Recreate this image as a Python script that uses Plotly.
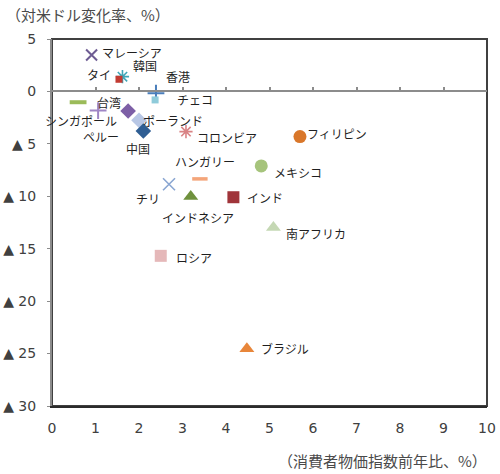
import plotly.graph_objects as go

# ---- data ----
countries = ["マレーシア", "韓国", "タイ", "香港", "チェコ", "台湾", "シンガポール", "ペルー",
             "ポーランド", "中国", "コロンビア", "フィリピン", "ハンガリー", "メキシコ", "チリ",
             "インド", "インドネシア", "南アフリカ", "ロシア", "ブラジル"]
cpi = [0.91, 1.62, 1.54, 2.39, 2.37, 0.60, 1.06, 1.75, 2.00, 2.10, 3.08, 5.70, 3.40,
       4.81, 2.69, 4.17, 3.19, 5.09, 2.50, 4.48]
fx = [3.47, 1.41, 1.16, -0.17, -0.81, -1.03, -1.83, -1.86, -2.75, -3.77, -3.83, -4.31,
      -8.34, -7.10, -8.85, -10.09, -10.03, -12.98, -15.68, -24.55]

x_ticks = list(range(0, 11))
y_tickvals = [5, 0, -5, -10, -15, -20, -25, -30]
y_ticktext = ["5", "0", "▲ 5", "▲ 10", "▲ 15", "▲ 20", "▲ 25", "▲ 30"]
y_title = "（対米ドル変化率、%）"
x_title = "（消費者物価指数前年比、%）"

# ---- styles ----
styles = {
    "マレーシア": dict(symbol="x-thin", size=11, color="#6E5C93", lw=2),
    "韓国": dict(symbol="asterisk", size=11, color="#3FA6B8", lw=1.6),
    "タイ": dict(symbol="square", size=7, color="#C23B32", lw=0),
    "香港": dict(symbol="cross-thin", size=12, color="#4A7EBB", lw=2),
    "チェコ": dict(symbol="square", size=7, color="#8FCBDA", lw=0),
    "台湾": dict(symbol="line-ew", size=12, color="#9BBB59", lw=4),
    "シンガポール": dict(symbol="cross-thin", size=12, color="#9F86C5", lw=2),
    "ペルー": dict(symbol="diamond", size=12, color="#7D5FA6", lw=0),
    "ポーランド": dict(symbol="diamond", size=12, color="#B8C7E5", lw=0),
    "中国": dict(symbol="diamond", size=12, color="#2F5E93", lw=0),
    "コロンビア": dict(symbol="asterisk", size=11, color="#D98385", lw=1.6),
    "フィリピン": dict(symbol="circle", size=13, color="#D9772A", lw=0),
    "ハンガリー": dict(symbol="line-ew", size=11, color="#F4A57A", lw=3.5),
    "メキシコ": dict(symbol="circle", size=13, color="#A6C47C", lw=0),
    "チリ": dict(symbol="x-thin", size=12, color="#8AA6D2", lw=1.6),
    "インド": dict(symbol="square", size=12, color="#A0343A", lw=0),
    "インドネシア": dict(symbol="triangle-up", size=13, color="#6F913D", lw=0),
    "南アフリカ": dict(symbol="triangle-up", size=13, color="#C5D8B4", lw=0),
    "ロシア": dict(symbol="square", size=12, color="#E5B8B9", lw=0),
    "ブラジル": dict(symbol="triangle-up", size=13, color="#E8863A", lw=0),
}
# label offsets in pixels (dx right, dy up)
label_offsets = {
    "マレーシア": (40, 3), "韓国": (23, 11), "タイ": (-20, 5), "香港": (22, 17),
    "チェコ": (40, 0), "台湾": (31, 0), "シンガポール": (-17, -10), "ペルー": (-27, -26),
    "ポーランド": (34, 0), "中国": (-5, -18), "コロンビア": (41, -6), "フィリピン": (37, 3),
    "ハンガリー": (5, 17), "メキシコ": (37, -7), "チリ": (-21, -14), "インド": (32, 0),
    "インドネシア": (7, -21), "南アフリカ": (43, -6), "ロシア": (33, -2), "ブラジル": (38, 0),
}

FONT = "DejaVu Sans, Noto Sans CJK JP, sans-serif"
LABEL_FONT = "Noto Sans CJK JP, DejaVu Sans, sans-serif"

fig = go.Figure()
for name, xv, yv in zip(countries, cpi, fx):
    s = styles[name]
    line_based = s["symbol"] in ("x-thin", "asterisk", "cross-thin", "line-ew")
    fig.add_trace(go.Scatter(
        x=[xv], y=[yv], mode="markers", name=name, hoverinfo="skip",
        marker=dict(symbol=s["symbol"], size=s["size"], color=s["color"],
                    line=dict(color=s["color"], width=s["lw"] if line_based else 0)),
    ))
    dx, dy = label_offsets[name]
    fig.add_annotation(x=xv, y=yv, text=name, showarrow=False, xshift=dx, yshift=dy,
                       font=dict(family=LABEL_FONT, size=12, color="#1f1f1f"))

ymin, ymax = min(y_tickvals), max(y_tickvals)
zero_pos = (0 - ymin) / (ymax - ymin)

fig.update_layout(
    width=500, height=474,
    margin=dict(l=52, r=13, t=39, b=68),
    plot_bgcolor="white", paper_bgcolor="white",
    showlegend=False,
    font=dict(family=FONT, size=13, color="#404040"),
    xaxis=dict(range=[0, 10], tickvals=x_ticks, showgrid=False, zeroline=False,
               automargin=False,
               showline=True, linecolor="#2b2b2b", linewidth=2, ticks="",
               ticklabelstandoff=8, tickfont=dict(size=14, color="#404040")),
    xaxis2=dict(range=[0, 10], tickvals=x_ticks, overlaying="x", anchor="free",
                position=zero_pos, side="bottom", showgrid=False, zeroline=False,
                automargin=False,
                showline=True, linecolor="#8c8c8c", linewidth=1.5, ticks="inside",
                ticklen=4, tickwidth=1.5, tickcolor="#8c8c8c", showticklabels=False),
    yaxis=dict(range=[ymin, ymax], tickvals=y_tickvals, ticktext=y_ticktext,
               automargin=False,
               showgrid=False, zeroline=False, showline=True, linecolor="#8c8c8c",
               linewidth=2, ticks="outside", ticklen=3, tickcolor="#8c8c8c",
               ticklabelstandoff=8, tickfont=dict(size=14, color="#404040")),
)
# frame
fig.add_shape(type="rect", xref="paper", yref="paper", x0=0, x1=1, y0=0, y1=1,
              line=dict(color="#404040", width=2), layer="below")
# empty trace to make sure the zero-line axis is drawn
fig.add_trace(go.Scatter(x=[], y=[], xaxis="x2", yaxis="y", hoverinfo="skip"))

fig.add_annotation(xref="paper", yref="paper", x=0, y=1, xanchor="left", yanchor="middle",
                   xshift=-48, yshift=25, text=y_title, showarrow=False,
                   font=dict(family=LABEL_FONT, size=15, color="#4a4a4a"))
fig.add_annotation(xref="paper", yref="paper", x=1, y=0, xanchor="right", yanchor="middle",
                   xshift=2, yshift=-54, text=x_title, showarrow=False,
                   font=dict(family=LABEL_FONT, size=15, color="#4a4a4a"))

# remove the default page margin so the figure fills the window exactly
fig.write_html("out.html", config={"displayModeBar": False},
               post_script="document.body.style.margin='0';"
                           "document.body.style.overflow='hidden';")
